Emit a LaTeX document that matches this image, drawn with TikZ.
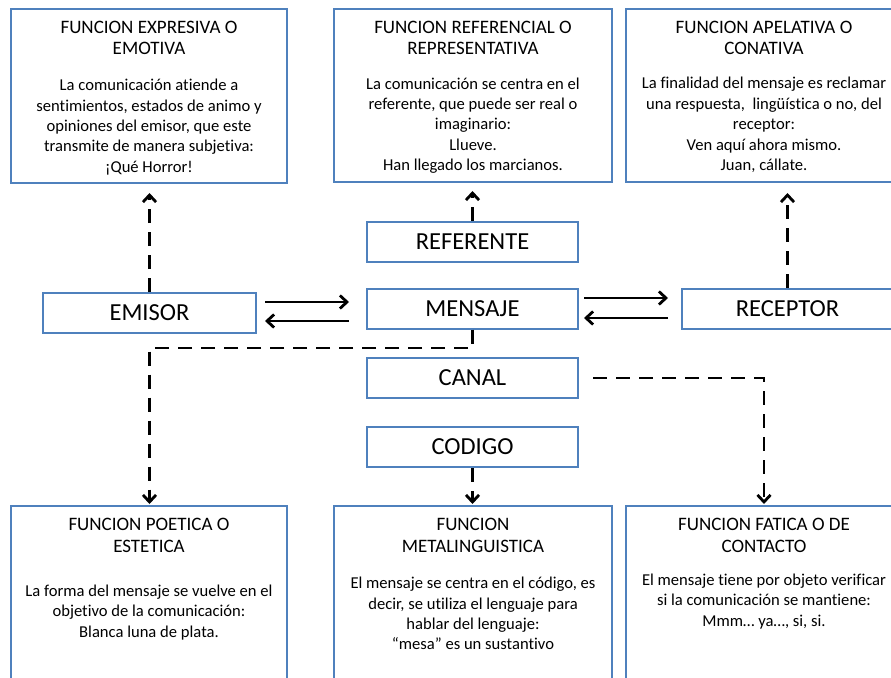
\documentclass[tikz,border=0pt]{standalone}
\usepackage{fontspec}
\setmainfont[RawFeature={-liga;-clig;-calt;-dlig}]{Carlito}
\usetikzlibrary{arrows.meta}
\definecolor{boxblue}{RGB}{79,129,189}
\begin{document}
\begin{tikzpicture}[x=1pt,y=-1pt,
  funcbox/.style={draw=boxblue, line width=2pt, fill=white, inner sep=0pt},
  midbox/.style={draw=boxblue, line width=2pt, fill=white, inner sep=0pt,
    minimum width=211pt, minimum height=40pt, font=\fontsize{24.5}{28}\selectfont},
  titletext/.style={align=center, inner sep=0pt, font=\fontsize{19}{21.7}\selectfont},
  bodytext/.style={align=center, inner sep=0pt, font=\fontsize{16.6}{20.4}\selectfont},
  dasharrow/.style={draw=black, line width=2.8pt, dash pattern=on 14pt off 9pt,
    -{Straight Barb[length=7pt,width=13pt,line width=2.8pt]}},
  solidarrow/.style={draw=black, line width=2.8pt,
    -{Straight Barb[length=7pt,width=13pt,line width=2.8pt]}}]
\clip (0,0) rectangle (891,677);
\fill[white] (0,0) rectangle (891,677);

% top function boxes
\node[funcbox, minimum width=276pt, minimum height=174pt] (expr) at (149,96) {};
\node[funcbox, minimum width=278pt, minimum height=173pt] (refb) at (473,95.5) {};
\node[funcbox, minimum width=276pt, minimum height=173pt] (apel) at (764,95.5) {};
\node[titletext] (exprT) at ([yshift=-30pt]expr.north) {FUNCION EXPRESIVA O\\EMOTIVA};
\node[bodytext] (exprB) at ([yshift=-119pt]expr.north) {La comunicación atiende a\\sentimientos, estados de animo y\\opiniones del emisor, que este\\transmite de manera subjetiva:\\¡Qué Horror!};
\node[titletext] (refbT) at ([yshift=-30pt]refb.north) {FUNCION REFERENCIAL O\\REPRESENTATIVA};
\node[bodytext] (refbB) at ([yshift=-117.5pt]refb.north) {La comunicación se centra en el\\referente, que puede ser real o\\imaginario:\\Llueve.\\Han llegado los marcianos.};
\node[titletext] (apelT) at ([yshift=-30pt]apel.north) {FUNCION APELATIVA O\\CONATIVA};
\node[bodytext] (apelB) at ([yshift=-117pt]apel.north) {La finalidad del mensaje es reclamar\\una respuesta,\ \ lingüística o no, del\\receptor:\\Ven aquí ahora mismo.\\Juan, cállate.};

% bottom function boxes
\node[funcbox, minimum width=276pt, minimum height=214pt] (poet) at (149,613) {};
\node[funcbox, minimum width=278pt, minimum height=214pt] (meta) at (473,613) {};
\node[funcbox, minimum width=276pt, minimum height=214pt] (fat) at (764,613) {};
\node[titletext] (poetT) at ([yshift=-30.5pt]poet.north) {FUNCION POETICA O\\ESTETICA};
\node[bodytext] (poetB) at ([yshift=-107.5pt]poet.north) {La forma del mensaje se vuelve en el\\objetivo de la comunicación:\\Blanca luna de plata.};
\node[titletext] (metaT) at ([yshift=-30.5pt]meta.north) {FUNCION\\METALINGUISTICA};
\node[bodytext] (metaB) at ([yshift=-108.5pt]meta.north) {El mensaje se centra en el código, es\\decir, se utiliza el lenguaje para\\hablar del lenguaje:\\“mesa” es un sustantivo};
\node[titletext] (fatT) at ([yshift=-30.5pt]fat.north) {FUNCION FATICA O DE\\CONTACTO};
\node[bodytext] (fatB) at ([yshift=-96.5pt]fat.north) {El mensaje tiene por objeto verificar\\si la comunicación se mantiene:\\Mmm… ya…, si, si.};

% middle boxes
\node[midbox, minimum width=213pt] (emisor) at (149.5,313) {EMISOR};
\node[midbox] (ref) at (472.5,242) {REFERENTE};
\node[midbox] (mens) at (472.5,308.5) {MENSAJE};
\node[midbox] (canal) at (472.5,378) {CANAL};
\node[midbox] (cod) at (472.5,447) {CODIGO};
\node[midbox] (rec) at (787.5,308.5) {RECEPTOR};

% solid arrows
\draw[solidarrow, shorten <=8pt, shorten >=17pt] ([yshift=11pt]emisor.east) -- ([yshift=11pt]emisor.east -| mens.west);
\draw[solidarrow, shorten <=17pt, shorten >=8pt] ([yshift=-8pt]emisor.east -| mens.west) -- ([yshift=-8pt]emisor.east);
\draw[solidarrow, shorten <=5pt, shorten >=13pt] ([yshift=10.5pt]mens.east) -- ([yshift=10.5pt]mens.east -| rec.west);
\draw[solidarrow, shorten <=13pt, shorten >=5pt] ([yshift=-9.5pt]mens.east -| rec.west) -- ([yshift=-9.5pt]mens.east);

% dashed arrows
\draw[dasharrow, shorten >=9pt] (emisor.north) -- (emisor.north |- expr.south);
\draw[dasharrow, shorten >=8pt] (ref.north) -- (ref.north |- refb.south);
\draw[dasharrow, shorten >=10pt] (rec.north) -- (rec.north |- apel.south);
\coordinate (bend1) at (149.5,348);
\draw[dasharrow, shorten >=1pt] (mens.south) |- (bend1) -- (bend1 |- poet.north);
\draw[dasharrow, shorten <=14pt, shorten >=1pt] (canal.east) -| (fat.north);
\draw[dasharrow, shorten >=1pt] (cod.south) -- (cod.south |- meta.north);
\end{tikzpicture}
\end{document}
